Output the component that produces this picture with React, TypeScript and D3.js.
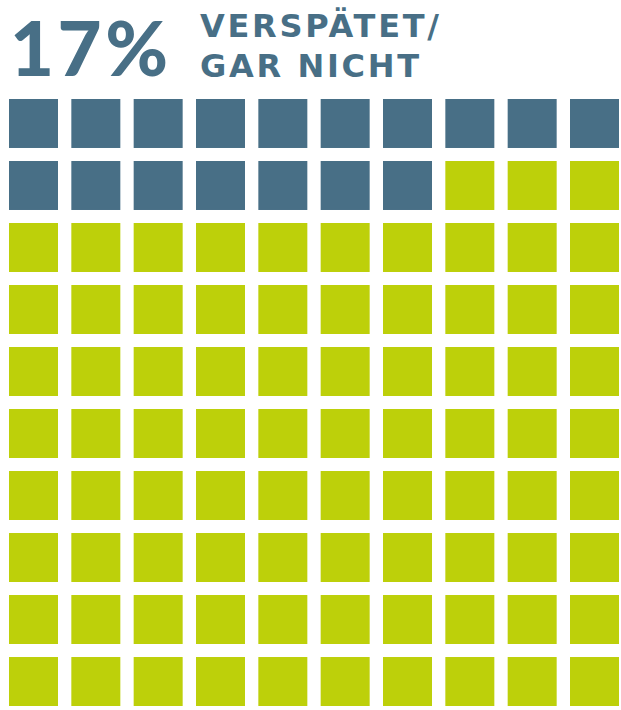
import React from "react";
import * as d3 from "d3";

// waffle data: 100 cells, 17 of them "late / not at all"
const totalCells = 100;
const lateShare = 17;
const headline = "17%";
const labelLines = ["VERSPÄTET/", "GAR NICHT"];
const cellColors = ["#486f86", "#bdd00a"];

const W = 621;
const H = 710;

export default function App() {
  const cells = d3.range(totalCells).map((i) => ({
    i,
    row: Math.floor(i / 10),
    col: i % 10,
    late: i < lateShare,
  }));

  // column and row band scales
  const x = d3.scaleBand<number>().domain(d3.range(10)).range([9, 619]).paddingInner(0.214).paddingOuter(0);
  const y = d3.scaleBand<number>().domain(d3.range(10)).range([99, 706]).paddingInner(0.21).paddingOuter(0);

  return (
    <svg
      width={W}
      height={H}
      style={{ position: "absolute", left: 0, top: 0, background: "#fff" }}
      fontFamily="Lato, 'DejaVu Sans', sans-serif"
    >
      <text
        x={10}
        y={76}
        fontSize={76}
        fontWeight={900}
        fill={cellColors[0]}
        textLength={158}
        lengthAdjust="spacing"
      >
        {headline}
      </text>
      {labelLines.map((t, k) => (
        <text
          key={t}
          x={200}
          y={37 + k * 40}
          fontSize={32}
          fontWeight="bold"
          fontFamily="'DejaVu Sans', sans-serif"
          fill={cellColors[0]}
          textLength={k === 0 ? 239 : 219}
          lengthAdjust="spacing"
        >
          {t}
        </text>
      ))}
      <g>
        {cells.map((c) => (
          <rect
            key={c.i}
            x={x(c.col)}
            y={y(c.row)}
            width={x.bandwidth()}
            height={y.bandwidth()}
            fill={c.late ? cellColors[0] : cellColors[1]}
          />
        ))}
      </g>
    </svg>
  );
}
